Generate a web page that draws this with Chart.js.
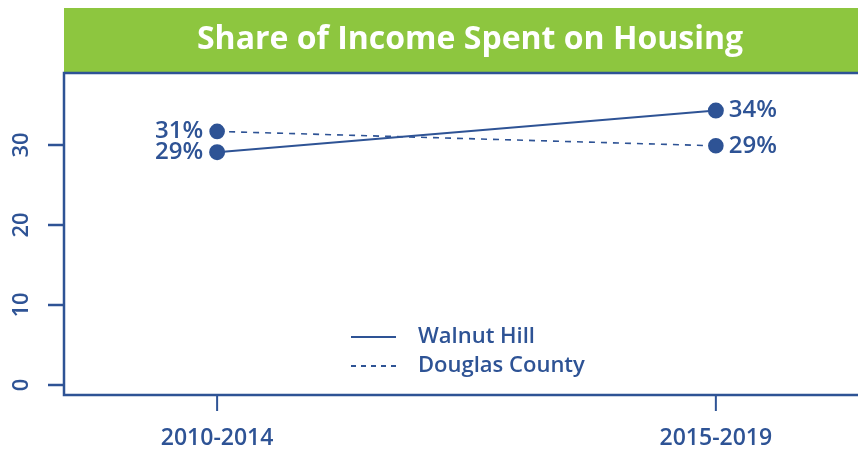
<!DOCTYPE html>
<html>
<head>
<meta charset="utf-8">
<script src="https://cdn.jsdelivr.net/npm/chart.js@4"></script>
<style>
  html, body { margin: 0; padding: 0; background: #fff; }
  #wrap { width: 858px; height: 451px; }
</style>
</head>
<body>
<div id="wrap"><canvas id="housingChart" width="858" height="451"></canvas></div>
<script>
// data
const periods = ["2010-2014", "2015-2019"];
const walnutHill = [29.1, 34.3];
const douglasCounty = [31.7, 29.9];
const walnutLabels = ["29%", "34%"];
const douglasLabels = ["31%", "29%"];
const yTicks = [0, 10, 20, 30];

const BLUE = "#2e5395";
const GREEN = "#8dc63f";
const FONT = "'Open Sans', 'Lato', sans-serif";

const toPoints = (vals) => vals.map((v, i) => ({ x: i + 1, y: v }));

// draws the title band, axes box, ticks, value labels and legend
const decorations = {
    id: "decorations",
    afterDraw(chart) {
        const { ctx, chartArea: a, scales } = chart;
        const xs = scales.x, ys = scales.y;
        ctx.save();

        // title band
        ctx.fillStyle = GREEN;
        ctx.fillRect(64, 8, 858 - 64, 64);
        ctx.fillStyle = "#fff";
        ctx.font = "bold 32px " + FONT;
        ctx.textAlign = "center";
        ctx.textBaseline = "middle";
        ctx.fillText("Share of Income Spent on Housing", 470, 40);

        // box (left, top, bottom)
        ctx.strokeStyle = BLUE;
        ctx.lineWidth = 2.5;
        ctx.beginPath();
        ctx.moveTo(a.right + 2, a.top);
        ctx.lineTo(a.left, a.top);
        ctx.lineTo(a.left, a.bottom);
        ctx.lineTo(a.right + 2, a.bottom);
        ctx.stroke();

        // y ticks + rotated labels
        ctx.fillStyle = BLUE;
        ctx.font = "600 22px " + FONT;
        yTicks.forEach((t) => {
            const py = ys.getPixelForValue(t);
            ctx.beginPath();
            ctx.moveTo(a.left - 16, py);
            ctx.lineTo(a.left, py);
            ctx.stroke();
            ctx.save();
            ctx.translate(22, py);
            ctx.rotate(-Math.PI / 2);
            ctx.textAlign = "center";
            ctx.textBaseline = "middle";
            ctx.fillText(String(t), 0, 0);
            ctx.restore();
        });

        // x ticks + labels
        ctx.lineWidth = 2;
        ctx.font = "600 23px " + FONT;
        periods.forEach((p, i) => {
            const px = xs.getPixelForValue(i + 1);
            ctx.beginPath();
            ctx.moveTo(px, a.bottom);
            ctx.lineTo(px, a.bottom + 16);
            ctx.stroke();
            ctx.textAlign = "center";
            ctx.textBaseline = "middle";
            ctx.fillText(p, px, 438);
        });

        // value labels
        ctx.font = "600 24px " + FONT;
        ctx.textBaseline = "middle";
        const label = (vals, texts) => {
            vals.forEach((v, i) => {
                const px = xs.getPixelForValue(i + 1);
                const py = ys.getPixelForValue(v);
                if (i === 0) {
                    ctx.textAlign = "right";
                    ctx.fillText(texts[i], px - 14, py);
                } else {
                    ctx.textAlign = "left";
                    ctx.fillText(texts[i], px + 13, py);
                }
            });
        };
        label(walnutHill, walnutLabels);
        label(douglasCounty, douglasLabels);

        // legend
        ctx.font = "600 22px " + FONT;
        ctx.textAlign = "left";
        const legend = [
            { text: "Walnut Hill", dash: [], y: 337 },
            { text: "Douglas County", dash: [5, 5], y: 366 },
        ];
        legend.forEach((l) => {
            ctx.setLineDash(l.dash);
            ctx.lineWidth = 2;
            ctx.beginPath();
            ctx.moveTo(351, l.y);
            ctx.lineTo(396, l.y);
            ctx.stroke();
            ctx.setLineDash([]);
            ctx.fillText(l.text, 418, l.y);
        });

        ctx.restore();
    },
};

new Chart(document.getElementById("housingChart").getContext("2d"), {
    type: "line",
    plugins: [decorations],
    data: {
        datasets: [
            {
                label: "Walnut Hill",
                data: toPoints(walnutHill),
                borderColor: BLUE,
                backgroundColor: BLUE,
                borderWidth: 2,
                pointRadius: 7,
                pointHoverRadius: 7,
            },
            {
                label: "Douglas County",
                data: toPoints(douglasCounty),
                borderColor: BLUE,
                backgroundColor: BLUE,
                borderWidth: 1.6,
                borderDash: [6, 6],
                pointRadius: 7,
                pointHoverRadius: 7,
            },
        ],
    },
    options: {
        responsive: false,
        animation: false,
        layout: { autoPadding: false, padding: { left: 64, top: 73, right: 0, bottom: 56 } },
        plugins: { legend: { display: false }, tooltip: { enabled: false } },
        scales: {
            x: { type: "linear", min: 0.693, max: 2.285, display: false },
            y: { type: "linear", min: -1.25, max: 39, display: false },
        },
    },
});
</script>
</body>
</html>
